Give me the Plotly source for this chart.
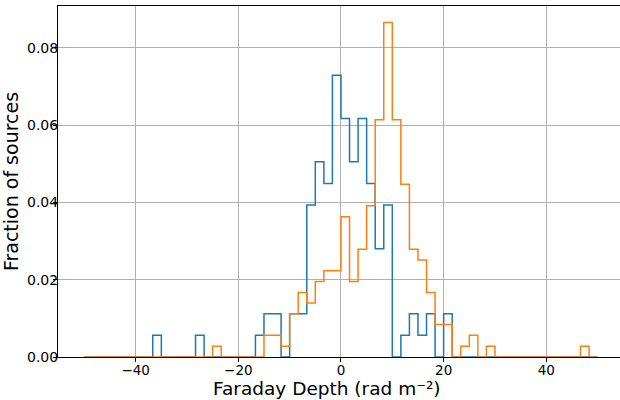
import numpy as np
import plotly.graph_objects as go

# 60 bins from -50 to 50 (width 5/3)
bin_lo, bin_hi, n_bins = -50.0, 50.0, 60

# fraction of sources per bin
blue_frac = [0, 0, 0, 0, 0, 0, 0, 0, 0.0056, 0,
             0, 0, 0, 0.0056, 0, 0, 0, 0, 0, 0,
             0.0056, 0.0112, 0.0112, 0, 0.0112, 0.0112, 0.0393, 0.0505, 0.0449, 0.0729,
             0.0617, 0.0505, 0.0617, 0.0449, 0.0280, 0.0393, 0, 0.0056, 0.0112, 0.0056,
             0.0112, 0, 0.0112, 0, 0, 0, 0, 0, 0, 0,
             0, 0, 0, 0, 0, 0, 0, 0, 0, 0]
orange_frac = [0, 0, 0, 0, 0, 0, 0, 0, 0, 0,
               0, 0, 0, 0, 0, 0.0028, 0, 0, 0, 0,
               0, 0.0056, 0.0056, 0.0028, 0.0112, 0.0167, 0.0140, 0.0195, 0.0223, 0.0223,
               0.0363, 0.0195, 0.0279, 0.0391, 0.0614, 0.0865, 0.0614, 0.0447, 0.0279, 0.0251,
               0.0167, 0.0084, 0.0084, 0, 0.0028, 0.0056, 0, 0.0028, 0, 0,
               0, 0, 0, 0, 0, 0, 0, 0, 0.0028, 0]

x_ticks = [-40, -20, 0, 20, 40]
x_tick_text = ["\u221240", "\u221220", "0", "20", "40"]
y_ticks = [0.0, 0.02, 0.04, 0.06, 0.08]
y_tick_text = ["0.00", "0.02", "0.04", "0.06", "0.08"]

edges = np.linspace(bin_lo, bin_hi, n_bins + 1)


def step_xy(vals):
    xs = [edges[0]] + list(edges[:-1]) + [edges[-1]]
    ys = [0] + list(vals) + [0]
    return xs, ys


fig = go.Figure()
for vals, col in [(blue_frac, "#1f77b4"), (orange_frac, "#ff7f0e")]:
    xs, ys = step_xy(vals)
    fig.add_trace(go.Scatter(x=xs, y=ys, mode="lines", line=dict(color=col, width=1.5, shape="hv"),
                             showlegend=False, hoverinfo="skip"))

font = "DejaVu Sans, Liberation Sans, sans-serif"
fig.update_layout(
    width=620, height=400,
    margin=dict(l=58, r=0, t=6, b=43),
    paper_bgcolor="white", plot_bgcolor="white",
    font=dict(family=font, color="black", size=14),
    xaxis=dict(range=[-55.13, 54.36], tickvals=x_ticks, ticktext=x_tick_text,
               showgrid=True, gridcolor="#b0b0b0", gridwidth=1,
               showline=True, linecolor="black", linewidth=1, mirror=True,
               ticks="outside", ticklen=4, tickcolor="black", zeroline=False,
               tickfont=dict(size=13.5), ticklabelstandoff=-3),
    yaxis=dict(range=[0, 0.0908], tickvals=y_ticks, ticktext=y_tick_text,
               showgrid=True, gridcolor="#b0b0b0", gridwidth=1,
               showline=True, linecolor="black", linewidth=1,
               ticks="outside", ticklen=4, tickcolor="black", zeroline=False,
               ticklabelstandoff=-8,
               title=dict(text="Fraction of sources", font=dict(size=19), standoff=4)),
    annotations=[dict(text="Faraday Depth (rad m\u207b\u00b2)", xref="paper", yref="paper",
                      x=0.479, y=-0.1225, xanchor="center", yanchor="bottom", showarrow=False,
                      borderpad=0, font=dict(size=18.5))],
)

fig.write_html("out.html")
